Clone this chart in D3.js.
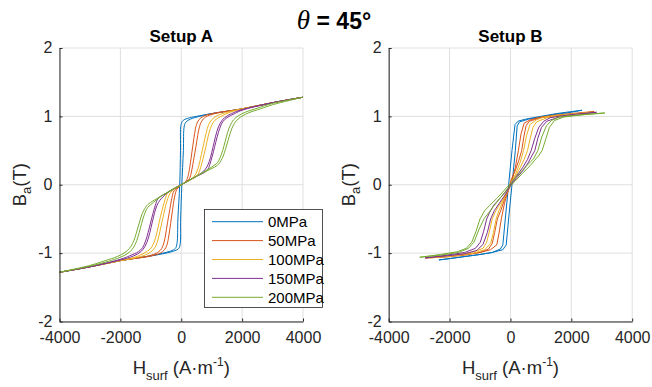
<!DOCTYPE html>
<html>
<head>
<meta charset="utf-8">
<script src="https://cdn.jsdelivr.net/npm/d3@7"></script>
<style>
body{margin:0;background:#fff;}
svg{display:block;font-family:"Liberation Sans",Arial,Helvetica,sans-serif;}
</style>
</head>
<body>
<svg id="fig" width="652" height="387"></svg>
<script>
// データ
const stressLabels = ["0MPa", "50MPa", "100MPa", "150MPa", "200MPa"];
const xTicks = [-4000, -2000, 0, 2000, 4000];
const yTicks = [-2, -1, 0, 1, 2];

// Setup A : ループ（下降枝 → 上昇枝）, [H, B]
const loopA0 = [[4000,1.28],[3000,1.2],[2000,1.11],[1000,1.04],[500,1.0],[200,0.97],[60,0.94],[-5,0.88],[-25,0.5],[-50,0],[-110,-0.5],[-140,-0.86],[-190,-0.93],[-350,-0.97],[-600,-1.0],[-1000,-1.04],[-2000,-1.11],[-3000,-1.2],[-4000,-1.28],
  [-3000,-1.2],[-2000,-1.11],[-1000,-1.04],[-500,-1.0],[-250,-0.97],[-100,-0.94],[-40,-0.88],[-20,-0.5],[20,0],[70,0.5],[100,0.86],[160,0.92],[300,0.96],[600,1.0],[1000,1.04],[2000,1.11],[3000,1.2],[4000,1.28]];
const loopA1 = [[4000,1.28],[3000,1.2],[2000,1.11],[1000,1.04],[720,1.0],[580,0.95],[500,0.88],[440,0.75],[380,0.57],[320,0.38],[250,0.18],[180,0.07],[100,0.03],[0,0],[-120,-0.04],[-240,-0.09],[-310,-0.2],[-390,-0.4],[-450,-0.55],[-510,-0.72],[-570,-0.85],[-640,-0.93],[-770,-0.99],[-1070,-1.04],[-2000,-1.11],[-3000,-1.2],[-4000,-1.28],
  [-3000,-1.2],[-2000,-1.11],[-970,-1.04],[-690,-1.0],[-550,-0.95],[-470,-0.88],[-410,-0.75],[-350,-0.57],[-290,-0.38],[-220,-0.18],[-150,-0.07],[-70,-0.03],[0,0],[150,0.04],[270,0.09],[340,0.2],[420,0.4],[480,0.55],[540,0.72],[600,0.85],[670,0.93],[800,0.99],[1100,1.04],[2000,1.11],[3000,1.2],[4000,1.28]];
const loopA2 = [[4000,1.28],[3000,1.2],[2000,1.11],[1500,1.06],[1180,1.01],[1000,0.95],[900,0.88],[820,0.76],[740,0.6],[660,0.44],[590,0.3],[520,0.2],[420,0.12],[200,0.05],[0,0],[-300,-0.07],[-460,-0.13],[-520,-0.2],[-600,-0.32],[-680,-0.46],[-760,-0.62],[-840,-0.77],[-920,-0.87],[-1020,-0.94],[-1220,-1.0],[-1520,-1.06],[-2000,-1.11],[-3000,-1.2],[-4000,-1.28],
  [-3000,-1.2],[-2000,-1.11],[-1420,-1.06],[-1100,-1.01],[-920,-0.95],[-820,-0.88],[-740,-0.76],[-660,-0.6],[-580,-0.44],[-510,-0.3],[-440,-0.2],[-360,-0.12],[-200,-0.05],[0,0],[300,0.07],[520,0.13],[600,0.2],[680,0.32],[760,0.46],[840,0.62],[920,0.77],[1000,0.87],[1100,0.94],[1300,1.0],[1600,1.06],[2000,1.11],[3000,1.2],[4000,1.28]];
const loopA3 = [[4000,1.28],[3000,1.2],[2000,1.1],[1650,1.04],[1420,0.98],[1280,0.9],[1170,0.78],[1080,0.62],[1000,0.47],[920,0.34],[840,0.26],[740,0.2],[400,0.1],[0,0],[-400,-0.1],[-760,-0.2],[-850,-0.3],[-930,-0.42],[-1010,-0.56],[-1090,-0.7],[-1170,-0.82],[-1270,-0.92],[-1410,-0.98],[-1700,-1.04],[-2000,-1.09],[-3000,-1.2],[-4000,-1.28],
  [-3000,-1.2],[-2000,-1.1],[-1560,-1.04],[-1330,-0.98],[-1190,-0.9],[-1080,-0.78],[-990,-0.62],[-910,-0.47],[-830,-0.34],[-750,-0.26],[-650,-0.2],[-400,-0.1],[0,0],[400,0.1],[850,0.21],[940,0.3],[1020,0.42],[1100,0.56],[1180,0.7],[1260,0.82],[1360,0.92],[1500,0.98],[1750,1.04],[2000,1.09],[3000,1.2],[4000,1.28]];
const loopA4 = [[4000,1.28],[3000,1.19],[2500,1.12],[2100,1.06],[1880,1.01],[1720,0.95],[1610,0.87],[1520,0.76],[1440,0.63],[1360,0.5],[1280,0.4],[1200,0.33],[1100,0.29],[600,0.15],[0,0],[-600,-0.15],[-1100,-0.29],[-1200,-0.35],[-1280,-0.42],[-1360,-0.53],[-1440,-0.65],[-1520,-0.77],[-1600,-0.86],[-1700,-0.93],[-1850,-0.99],[-2100,-1.05],[-2500,-1.11],[-3000,-1.18],[-4000,-1.28],
  [-3000,-1.19],[-2400,-1.12],[-2000,-1.06],[-1780,-1.01],[-1620,-0.95],[-1510,-0.87],[-1420,-0.76],[-1340,-0.63],[-1260,-0.5],[-1180,-0.4],[-1100,-0.33],[-1000,-0.29],[-600,-0.15],[0,0],[600,0.15],[1200,0.29],[1300,0.35],[1380,0.42],[1460,0.53],[1540,0.65],[1620,0.77],[1700,0.86],[1800,0.93],[1950,0.99],[2200,1.05],[2600,1.11],[3000,1.17],[4000,1.28]];

// Setup B : ループ（下降枝 → 上昇枝）, [H, B]
const loopB0 = [[2350,1.09],[2000,1.07],[1500,1.04],[1000,1.0],[500,0.96],[250,0.93],[150,0.88],[50,0.5],[-60,0],[-170,-0.5],[-250,-0.88],[-330,-0.94],[-600,-0.99],[-1000,-1.02],[-1500,-1.05],[-2000,-1.08],[-2350,-1.1],
  [-2000,-1.08],[-1500,-1.05],[-1000,-1.02],[-600,-0.99],[-250,-0.95],[-140,-0.88],[-60,-0.5],[50,0],[160,0.5],[220,0.86],[300,0.92],[600,0.96],[1000,0.99],[1500,1.03],[2000,1.06],[2350,1.09]];
const loopB1 = [[2750,1.07],[2200,1.05],[1500,1.02],[1000,0.99],[650,0.95],[450,0.9],[350,0.75],[260,0.5],[160,0.25],[40,0.05],[-80,-0.1],[-200,-0.22],[-320,-0.38],[-430,-0.5],[-520,-0.7],[-600,-0.86],[-720,-0.94],[-1000,-0.99],[-1500,-1.03],[-2200,-1.06],[-2800,-1.07],
  [-2200,-1.05],[-1500,-1.02],[-1000,-0.99],[-650,-0.95],[-450,-0.88],[-380,-0.72],[-300,-0.5],[-200,-0.28],[-90,-0.1],[30,0.08],[150,0.2],[270,0.35],[370,0.5],[440,0.7],[510,0.86],[620,0.93],[1000,0.98],[1500,1.01],[2200,1.04],[2750,1.07]];
const loopB2 = [[2650,1.06],[2200,1.04],[1600,1.02],[1100,0.99],[850,0.95],[640,0.88],[530,0.72],[430,0.5],[320,0.33],[180,0.17],[40,0.04],[-100,-0.1],[-250,-0.22],[-400,-0.32],[-500,-0.4],[-600,-0.5],[-690,-0.68],[-780,-0.84],[-900,-0.93],[-1200,-0.98],[-1800,-1.03],[-2650,-1.07],
  [-1800,-1.04],[-1200,-1.0],[-850,-0.95],[-650,-0.86],[-560,-0.7],[-470,-0.5],[-380,-0.38],[-260,-0.25],[-120,-0.12],[20,0.02],[180,0.14],[320,0.25],[450,0.37],[560,0.5],[650,0.68],[740,0.84],[860,0.92],[1200,0.98],[1800,1.02],[2650,1.06]];
const loopB3 = [[2830,1.06],[2300,1.04],[1700,1.01],[1300,0.98],[1100,0.93],[930,0.84],[800,0.68],[680,0.5],[560,0.37],[400,0.25],[200,0.13],[40,0.03],[-150,-0.1],[-350,-0.2],[-550,-0.3],[-680,-0.4],[-780,-0.5],[-880,-0.68],[-990,-0.84],[-1150,-0.93],[-1500,-0.99],[-2100,-1.03],[-2800,-1.07],
  [-2100,-1.04],[-1500,-1.01],[-1100,-0.96],[-900,-0.87],[-760,-0.7],[-650,-0.5],[-530,-0.38],[-380,-0.28],[-180,-0.15],[0,-0.02],[200,0.1],[400,0.2],[580,0.32],[700,0.42],[800,0.5],[900,0.68],[1020,0.84],[1200,0.93],[1600,0.99],[2200,1.02],[2830,1.06]];
const loopB4 = [[3100,1.05],[2500,1.03],[2000,1.01],[1600,0.99],[1350,0.94],[1180,0.86],[1030,0.7],[900,0.5],[760,0.38],[560,0.29],[300,0.17],[60,0.05],[-200,-0.08],[-450,-0.2],[-700,-0.31],[-850,-0.38],[-1000,-0.5],[-1130,-0.68],[-1270,-0.84],[-1450,-0.93],[-1750,-0.98],[-2300,-1.02],[-2980,-1.06],
  [-2300,-1.03],[-1700,-0.99],[-1380,-0.93],[-1200,-0.84],[-1040,-0.66],[-870,-0.5],[-700,-0.4],[-560,-0.32],[-350,-0.2],[-100,-0.06],[150,0.05],[400,0.17],[650,0.28],[800,0.36],[920,0.42],[1040,0.5],[1170,0.68],[1280,0.84],[1450,0.94],[1750,0.99],[2300,1.02],[3100,1.05]];

const loopsA = [loopA0, loopA1, loopA2, loopA3, loopA4];
const loopsB = [loopB0, loopB1, loopB2, loopB3, loopB4];

//定数
const COLORS = ["#0072BD", "#D95319", "#EDB120", "#7E2F8E", "#77AC30"];
const PLOT_W = 243.5;
const TOP = 48;
const BOTTOM = 321.5;
const AXIS_COLOR = "#262626";
const GRID_COLOR = "#dfdfdf";

var svg = d3.select("#fig");
var yscale = d3.scaleLinear().domain([-2, 2]).range([BOTTOM, TOP]);

//全体タイトル
var sup = svg.append("text")
  .attr("x", 334)
  .attr("y", 29)
  .attr("text-anchor", "middle")
  .attr("fill", "#000");
sup.append("tspan")
  .attr("font-family", "'Liberation Serif','DejaVu Serif',serif")
  .attr("font-style", "italic")
  .attr("font-size", 27)
  .text("θ");
sup.append("tspan")
  .attr("font-weight", "bold")
  .attr("font-size", 23)
  .text(" = 45°");

//サブプロット描画
function drawPanel(left, loops, title, smooth, withLegend){
  var xscale = d3.scaleLinear().domain([-4000, 4000]).range([left, left + PLOT_W]);
  var g = svg.append("g");

  //グリッド
  g.selectAll(".gx")
    .data(xTicks)
    .enter()
    .append("line")
    .attr("x1", function(d){ return xscale(d); })
    .attr("x2", function(d){ return xscale(d); })
    .attr("y1", TOP)
    .attr("y2", BOTTOM)
    .attr("stroke", GRID_COLOR)
    .attr("stroke-width", 1);
  g.selectAll(".gy")
    .data(yTicks)
    .enter()
    .append("line")
    .attr("x1", left)
    .attr("x2", left + PLOT_W)
    .attr("y1", function(d){ return yscale(d); })
    .attr("y2", function(d){ return yscale(d); })
    .attr("stroke", GRID_COLOR)
    .attr("stroke-width", 1);

  //ループ
  var line = d3.line()
    .x(function(d){ return xscale(d[0]); })
    .y(function(d){ return yscale(d[1]); })
    .curve(smooth ? d3.curveCatmullRom.alpha(0.5) : d3.curveLinear);
  g.selectAll(".loop")
    .data(loops)
    .enter()
    .append("path")
    .attr("d", line)
    .attr("fill", "none")
    .attr("stroke", function(d, i){ return COLORS[i]; })
    .attr("stroke-width", 1);

  //軸
  var ax = g.append("g")
    .attr("transform", "translate(0," + BOTTOM + ")")
    .call(d3.axisBottom(xscale).tickValues(xTicks).tickFormat(function(d){ return String(d); })
      .tickSizeInner(-3).tickSizeOuter(0).tickPadding(10));
  var ay = g.append("g")
    .attr("transform", "translate(" + left + ",0)")
    .call(d3.axisLeft(yscale).tickValues(yTicks).tickFormat(function(d){ return String(d); })
      .tickSizeInner(-3).tickSizeOuter(0).tickPadding(7));
  [ax, ay].forEach(function(a){
    a.select(".domain").attr("stroke", AXIS_COLOR);
    a.selectAll(".tick line").attr("stroke", AXIS_COLOR);
    a.selectAll(".tick text")
      .attr("fill", AXIS_COLOR)
      .attr("font-size", 16)
      .attr("font-family", "'Liberation Sans',Arial,sans-serif");
  });
  ay.selectAll(".tick text").attr("dy", "0.3em");

  //タイトル
  g.append("text")
    .attr("x", left + PLOT_W / 2)
    .attr("y", 41.5)
    .attr("text-anchor", "middle")
    .attr("font-weight", "bold")
    .attr("font-size", 17)
    .attr("fill", "#000")
    .text(title);

  //x軸ラベル
  var xl = g.append("text")
    .attr("x", left + PLOT_W / 2)
    .attr("y", 374)
    .attr("text-anchor", "middle")
    .attr("font-size", 18.5)
    .attr("fill", AXIS_COLOR);
  xl.append("tspan").text("H");
  xl.append("tspan").attr("font-size", 13).attr("dy", 6).text("surf");
  xl.append("tspan").attr("dy", -6).text(" (A·m");
  xl.append("tspan").attr("font-size", 12).attr("dy", -8).text("-1");
  xl.append("tspan").attr("dy", 8).text(")");

  //y軸ラベル
  var yl = g.append("text")
    .attr("transform", "translate(" + (left - 34) + "," + yscale(0) + ") rotate(-90)")
    .attr("text-anchor", "middle")
    .attr("font-size", 18.5)
    .attr("fill", AXIS_COLOR);
  yl.append("tspan").text("B");
  yl.append("tspan").attr("font-size", 13).attr("dy", 5).text("a");
  yl.append("tspan").attr("dy", -5).text("(T)");

  //凡例
  if(withLegend){
    var lg = g.append("g");
    lg.append("rect")
      .attr("x", 204.5)
      .attr("y", 209.5)
      .attr("width", 118)
      .attr("height", 98)
      .attr("fill", "#fff")
      .attr("stroke", AXIS_COLOR)
      .attr("stroke-width", 0.8);
    var rows = lg.selectAll(".row")
      .data(stressLabels)
      .enter()
      .append("g")
      .attr("transform", function(d, i){ return "translate(0," + (221.7 + i * 18.9) + ")"; });
    rows.append("line")
      .attr("x1", 212)
      .attr("x2", 263)
      .attr("stroke", function(d, i){ return COLORS[i]; })
      .attr("stroke-width", 1);
    rows.append("text")
      .attr("x", 268)
      .attr("y", 5.5)
      .attr("font-size", 15)
      .attr("fill", "#000")
      .text(function(d){ return d; });
  }
}

drawPanel(59.5, loopsA, "Setup A", true, true);
drawPanel(388.7, loopsB, "Setup B", false, false);
</script>
</body>
</html>
